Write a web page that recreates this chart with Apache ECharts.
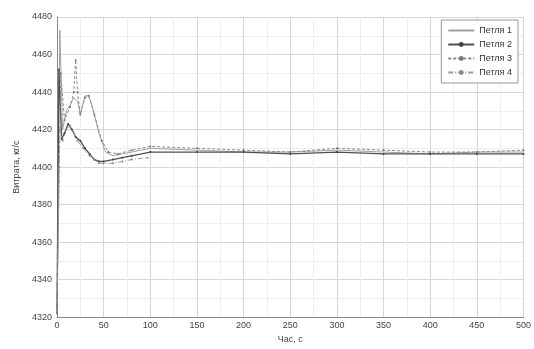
<!DOCTYPE html>
<html><head><meta charset="utf-8">
<script src="https://cdn.jsdelivr.net/npm/echarts@6/dist/echarts.min.js"></script>
<style>html,body{margin:0;padding:0;background:#fff}#c{width:534px;height:349px}</style>
</head><body><div id="c"></div>
<script>
const seriesNames = ['Петля 1', 'Петля 2', 'Петля 3', 'Петля 4'];
const xTicks = [0, 50, 100, 150, 200, 250, 300, 350, 400, 450, 500];
const yTicks = [4320, 4340, 4360, 4380, 4400, 4420, 4440, 4460, 4480];

const t1 = [0, 3, 6, 10, 14, 18, 22, 25, 30, 34, 38, 45, 52, 60, 70, 80, 100, 150, 200, 250, 300, 350, 400, 450, 500];
const v1 = [4322, 4473, 4420, 4430, 4433, 4437, 4435, 4428, 4438, 4438, 4432, 4418, 4408, 4406, 4407, 4408, 4410, 4409, 4408, 4408, 4409, 4408, 4407, 4408, 4408];

const t2 = [0, 2, 5, 8, 12, 16, 20, 25, 30, 35, 40, 45, 50, 60, 70, 80, 100, 150, 200, 250, 300, 350, 400, 450, 500];
const v2 = [4322, 4452, 4415, 4418, 4423, 4420, 4416, 4414, 4410, 4407, 4404, 4403, 4403, 4404, 4405, 4406, 4408, 4408, 4408, 4407, 4408, 4407, 4407, 4407, 4407];

const t3 = [0, 4, 8, 14, 18, 20, 22, 25, 30, 34, 40, 48, 55, 65, 80, 100, 150, 200, 250, 300, 350, 400, 450, 500];
const v3 = [4322, 4450, 4425, 4432, 4440, 4457, 4440, 4428, 4437, 4438, 4428, 4414, 4408, 4407, 4409, 4411, 4410, 4409, 4408, 4410, 4409, 4408, 4408, 4409];

const t4 = [0, 3, 6, 10, 14, 18, 22, 28, 35, 40, 45, 50, 60, 70, 80, 97];
const v4 = [4322, 4420, 4414, 4420, 4422, 4418, 4414, 4410, 4406, 4404, 4402, 4402, 4402, 4403, 4404, 4405];

const pairs = (t, v) => t.map((x, i) => [x, v[i]]);

const chart = echarts.init(document.getElementById('c'));
const font = 'Liberation Sans, Arial, sans-serif';
chart.setOption({
  animation: false,
  grid: { left: 57, right: 10, top: 17, bottom: 27 },
  legend: {
    orient: 'vertical', right: 16, top: 20,
    backgroundColor: '#fff', borderColor: '#999', borderWidth: 1,
    padding: [6, 6, 6, 6], itemGap: 5, itemWidth: 26, itemHeight: 6,
    textStyle: { fontSize: 9, color: '#333', fontFamily: font },
    data: [
      { name: seriesNames[0], itemStyle: { opacity: 0 } },
      { name: seriesNames[1] },
      { name: seriesNames[2] },
      { name: seriesNames[3] }
    ]
  },
  xAxis: {
    type: 'value', min: 0, max: 500, interval: 50,
    name: 'Час, с', nameLocation: 'middle', nameGap: 13,
    nameTextStyle: { fontSize: 9, color: '#444', fontFamily: font },
    axisLine: { lineStyle: { color: '#888' } },
    axisTick: { show: false },
    axisLabel: { fontSize: 9, color: '#444', margin: 4, fontFamily: font },
    splitLine: { lineStyle: { color: '#d6d6d6' } },
    minorTick: { show: false, splitNumber: 2 },
    minorSplitLine: { show: true, lineStyle: { color: '#eeeeee' } }
  },
  yAxis: {
    type: 'value', min: 4320, max: 4480, interval: 20,
    name: 'Витрата, кг/с', nameLocation: 'middle', nameGap: 34, nameRotate: 90,
    nameTextStyle: { fontSize: 9, color: '#444', fontFamily: font },
    axisLine: { show: true, lineStyle: { color: '#888' } },
    axisTick: { show: false },
    axisLabel: { fontSize: 9, color: '#444', margin: 5, fontFamily: font, formatter: v => String(v) },
    splitLine: { lineStyle: { color: '#d6d6d6' } },
    minorTick: { show: false, splitNumber: 2 },
    minorSplitLine: { show: true, lineStyle: { color: '#eeeeee' } }
  },
  series: [
    { name: seriesNames[0], type: 'line', data: pairs(t1, v1), symbol: 'none',
      lineStyle: { color: '#a0a0a0', width: 1 }, itemStyle: { color: '#a0a0a0' } },
    { name: seriesNames[1], type: 'line', data: pairs(t2, v2), symbol: 'circle', symbolSize: 2,
      lineStyle: { color: '#505050', width: 1.3 }, itemStyle: { color: '#404040' } },
    { name: seriesNames[2], type: 'line', data: pairs(t3, v3), symbol: 'circle', symbolSize: 2,
      lineStyle: { color: '#8a8a8a', width: 1, type: [3, 2] }, itemStyle: { color: '#777' } },
    { name: seriesNames[3], type: 'line', data: pairs(t4, v4), symbol: 'circle', symbolSize: 2,
      lineStyle: { color: '#9a9a9a', width: 1, type: [5, 2, 1, 2] }, itemStyle: { color: '#888' } }
  ]
});
</script>
</body></html>
